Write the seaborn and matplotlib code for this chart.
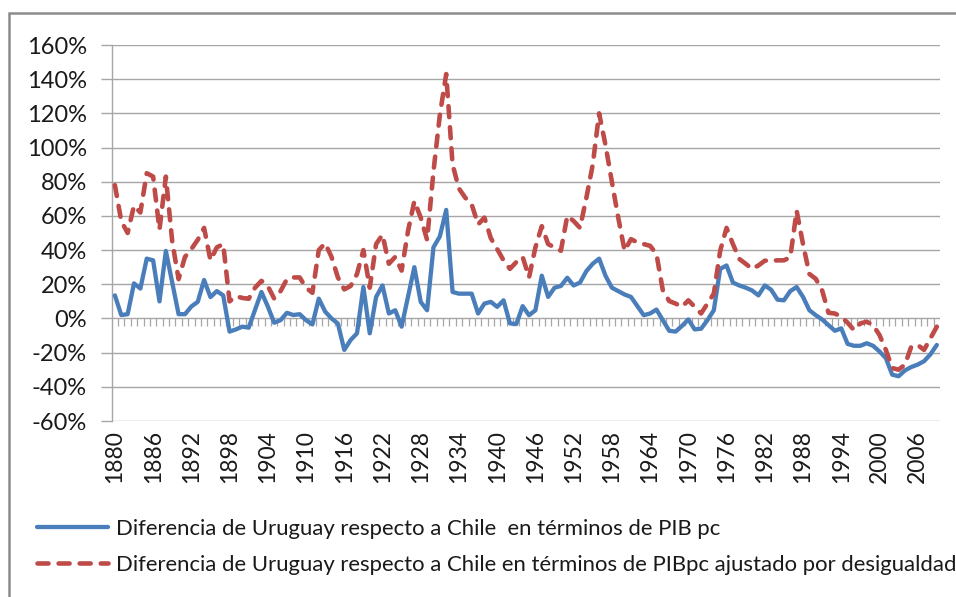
import numpy as np
import pandas as pd
import matplotlib
matplotlib.use("Agg")
import matplotlib.pyplot as plt
from matplotlib.patches import Rectangle
from matplotlib.ticker import FuncFormatter
import seaborn as sns

years = list(range(1880, 2010))

pib_pc = [
    13.5, 2, 2.5, 20.5, 17.5, 35, 34, 10, 39.5, 21,
    2.5, 2.5, 7, 9.7, 22.5, 12.5, 16, 13.5, -7.7, -6.4,
    -4.8, -5.4, 5, 15.5, 7, -2.5, -1, 3.3, 2, 2.5,
    -1, -3.5, 11.6, 4, 0, -3, -18.4, -12.6, -8.7, 18.4,
    -8.7, 12.6, 19.3, 2.9, 4.8, -4.8, 12.6, 30, 9.7, 4.8,
    41.6, 48, 63.5, 15.5, 14.5, 14.5, 14.5, 2.9, 8.7, 9.7,
    6.8, 10.6, -2.9, -3.3, 7.2, 1.9, 4.8, 25, 12.6, 18,
    19, 23.8, 19.3, 21, 27.7, 32, 35, 25, 18, 16,
    14, 12.6, 7.2, 1.9, 2.9, 5.2, -1, -7.2, -7.7, -4.4,
    -0.6, -6.4, -6, -1, 4.8, 29, 31, 21, 19.3, 18,
    16.4, 13.5, 19.3, 16.8, 11, 10.6, 16, 18.4, 12.6, 4.8,
    1.9, -0.6, -3.9, -7.2, -5.8, -14.9, -16, -16, -14.5, -16,
    -19.3, -23.2, -32.9, -33.8, -30.4, -28.4, -27, -25, -21, -15.5,
]

pib_pc_ajustado = [
    78, 57, 50, 66, 62, 85, 83, 52, 83, 45,
    23, 36, 40.6, 46, 53, 34, 41.6, 43.5, 10, 13,
    12, 11.5, 18, 22, 19, 11.6, 16, 23, 24, 24,
    18, 15, 40, 44, 36, 24, 17, 19, 26, 40,
    18, 43.5, 49, 32, 36, 28, 51, 68.7, 59, 46,
    86, 119, 143, 90, 76, 70.6, 66.7, 55, 59, 47,
    40.6, 34, 29, 33, 36, 24, 41.6, 54, 43.5, 41.6,
    39.6, 60, 57, 53, 70.6, 90, 120, 101.5, 80, 59,
    39.6, 46.4, 44.5, 43.5, 42.5, 37.7, 16.4, 10.2, 8.7, 6.8,
    10.6, 6.8, 2.9, 8.7, 14.5, 39.6, 53, 43.5, 34.8, 32,
    29, 31, 33.8, 33.8, 34, 34, 35.8, 63, 43.5, 26,
    23.2, 16.4, 3.3, 2.9, 1, -2.5, -6.8, -2.9, -1.9, -3.9,
    -9.7, -18.4, -29, -30, -27, -16.4, -15.5, -18.4, -11.6, -4.8,
]

label_pc = "Diferencia de Uruguay respecto a Chile  en términos de PIB pc"
label_aj = "Diferencia de Uruguay respecto a Chile en términos de PIBpc ajustado por desigualdad"

y_ticks = list(range(-60, 161, 20))
x_tick_years = list(range(1880, 2007, 6))

df = pd.DataFrame({"year": years, "pc": pib_pc, "aj": pib_pc_ajustado})

sns.set_theme(style="white")
plt.rcParams["font.family"] = ["Lato", "DejaVu Sans"]

W, H = 956, 597
fig = plt.figure(figsize=(W / 100, H / 100), dpi=100)
ax = fig.add_axes([111.7 / W, 1 - 421 / H, (940 - 111.7) / W, (421 - 45) / H])

grid_c = "#a6a6a6"
blue = "#4a7ebb"
red = "#be4b48"
text_c = "#1a1a1a"

sns.lineplot(data=df, x="year", y="pc", ax=ax, color=blue, linewidth=3.1,
             label=label_pc, zorder=3)
sns.lineplot(data=df, x="year", y="aj", ax=ax, color=red, linewidth=3.3,
             label=label_aj, zorder=4)
l_pc, l_aj = ax.lines[0], ax.lines[1]
l_pc.set_solid_capstyle("round")
l_pc.set_solid_joinstyle("round")
l_aj.set_dashes([2.4, 2.2])
l_aj.set_dash_capstyle("round")
l_aj.set_dash_joinstyle("round")

ax.set_xlim(years[0] - 0.5, years[-1] + 0.5)
ax.set_ylim(y_ticks[0], y_ticks[-1])
ax.set_yticks(y_ticks)
ax.yaxis.set_major_formatter(FuncFormatter(lambda v, p: f"{v:.0f}%"))
ax.set_xticks(x_tick_years)
ax.set_xticklabels([str(y) for y in x_tick_years], rotation=90)
ax.set_xlabel("")
ax.set_ylabel("")

for yv in y_ticks:
    ax.axhline(yv, color=grid_c, lw=1.0, zorder=1)

# category tick marks on the zero line (between categories)
between = np.arange(years[0] + 0.5, years[-1], 1.0)
ax.plot(between, np.zeros_like(between), linestyle="none", marker=3,
        markersize=6, markeredgewidth=0.9, color=grid_c, zorder=2, clip_on=False)

for s in ["top", "right", "bottom"]:
    ax.spines[s].set_visible(False)
ax.spines["left"].set_color(grid_c)
ax.spines["left"].set_linewidth(1.0)

ax.tick_params(axis="y", which="major", left=True, length=8, width=1.0,
               color=grid_c, pad=10, labelsize=17, labelcolor=text_c)
ax.tick_params(axis="x", which="major", bottom=True, length=0, pad=6.5,
               labelsize=16.5, labelcolor=text_c)

leg = ax.legend(loc="upper left", bbox_to_anchor=(37 / W, 1 - 519 / H),
                bbox_transform=fig.transFigure, frameon=False, fontsize=15.9,
                handlelength=3.2, handletextpad=0.38, labelspacing=0.72,
                borderpad=0, borderaxespad=0)
for t in leg.get_texts():
    t.set_color(text_c)

fig.add_artist(Rectangle((9 / W, -0.2), 1.5, 1.2 - 13 / H + 0.0,
                         transform=fig.transFigure, fill=False,
                         edgecolor="#8c8c8c", lw=1.8))

fig.savefig("out.png", dpi=100, facecolor="white")
